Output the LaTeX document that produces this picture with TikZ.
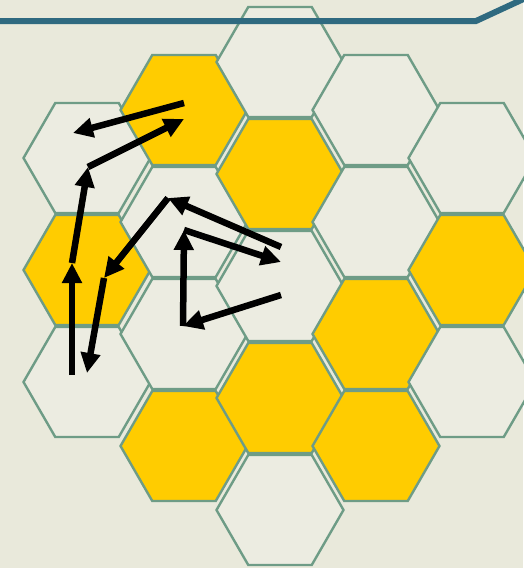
\documentclass[tikz,border=0pt]{standalone}
\usetikzlibrary{shapes.geometric,arrows.meta}
\definecolor{bgc}{HTML}{E9E9DB}
\definecolor{hexin}{HTML}{ECECE1}
\definecolor{hexedge}{HTML}{6E9C86}
\definecolor{honey}{HTML}{FFCC00}
\definecolor{barc}{HTML}{2F6A80}
\tikzset{
  hexbase/.style={regular polygon, regular polygon sides=6, minimum size=127pt,
    inner sep=0pt, draw=hexedge, line width=2.4pt},
  hexw/.style={hexbase, fill=hexin},
  hexy/.style={hexbase, fill=honey},
  mv/.style={line width=6.5pt, black, -{Triangle[length=20pt,width=19pt]}}
}
\begin{document}
\begin{tikzpicture}[x=1pt,y=-1pt]
\fill[bgc] (0,0) rectangle (523,568);
\useasboundingbox (0,0) rectangle (523,568);
% column 1
\node[hexw] (h11) at (87,158) {};
\node[hexy] (h12) at (87,270) {};
\node[hexw] (h13) at (87,382) {};
% column 2
\node[hexy] (h21) at (184,110) {};
\node[hexw] (h22) at (184,222) {};
\node[hexw] (h23) at (184,334) {};
\node[hexy] (h24) at (184,446) {};
% column 3
\node[hexw] (h31) at (280,62) {};
\node[hexy] (h32) at (280,174) {};
\node[hexw] (h33) at (280,286) {};
\node[hexy] (h34) at (280,398) {};
\node[hexw] (h35) at (280,510) {};
% column 4
\node[hexw] (h41) at (376,110) {};
\node[hexw] (h42) at (376,222) {};
\node[hexy] (h43) at (376,334) {};
\node[hexy] (h44) at (376,446) {};
% column 5
\node[hexw] (h51) at (472,158) {};
\node[hexy] (h52) at (472,270) {};
\node[hexw] (h53) at (472,382) {};
% top bar
\coordinate (b0) at (0,21);
\coordinate (b1) at (476,21);
\coordinate (b2) at (530,-4);
\draw[barc, line width=6pt] (b0) -- (b1) -- (b2);
% move points
\coordinate (pa) at (72,375);
\coordinate (pb) at (72,263);
\coordinate (pc) at (88,167);
\coordinate (pd) at (184,119);
\coordinate (pe) at (184,103);
\coordinate (pf) at (73,133);
\coordinate (pg) at (168,198);
\coordinate (ph) at (104,278);
\coordinate (pi) at (87,373);
\coordinate (pj) at (281,247);
\coordinate (pk) at (184,230);
\coordinate (pl) at (281,262);
\coordinate (pm) at (281,295);
\coordinate (pn) at (183,326);
\draw[mv] (pa) -- (pb);
\draw[mv] (pb) -- (pc);
\draw[mv] (pc) -- (pd);
\draw[mv] (pe) -- (pf);
\draw[mv] (pg) -- (ph);
\draw[mv] (ph) -- (pi);
\draw[mv] (pj) -- (pg);
\draw[mv] (pk) -- (pl);
\draw[mv] (pm) -- (pn);
\draw[mv] (pn) -- (pk);
\end{tikzpicture}
\end{document}
